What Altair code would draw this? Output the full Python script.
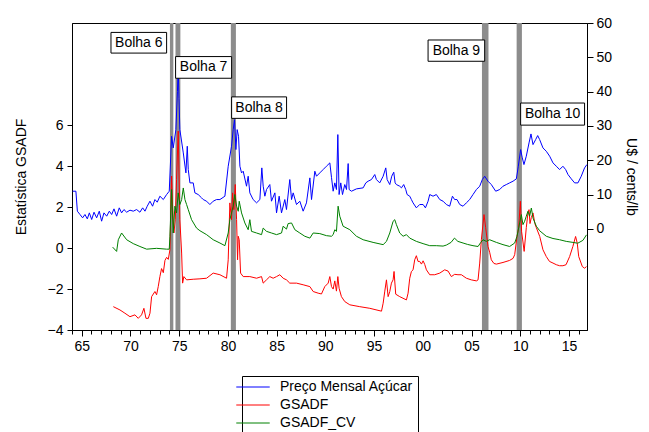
import altair as alt
import pandas as pd

# ---------------- data ----------------
price_year = [1964.07, 1964.40, 1964.55, 1964.82, 1965.09, 1965.33, 1965.57, 1965.78, 1966.02, 1966.26,
              1966.53, 1966.80, 1967.04, 1967.28, 1967.56, 1967.83, 1968.07, 1968.31, 1968.58, 1968.85,
              1969.09, 1969.33, 1969.61, 1969.95, 1970.29, 1970.63, 1970.97, 1971.25, 1971.49, 1971.72,
              1972.00, 1972.27, 1972.51, 1972.75, 1973.02, 1973.37, 1973.71, 1973.98, 1974.22, 1974.39,
              1974.66, 1974.82, 1974.90, 1974.98, 1975.07, 1975.42, 1975.69, 1975.83, 1975.93, 1976.10,
              1976.44, 1976.61, 1976.95, 1977.30, 1977.47, 1977.81, 1978.15, 1978.49, 1978.83, 1979.18,
              1979.69, 1980.03, 1980.37, 1980.54, 1980.68, 1980.82, 1980.95, 1981.09, 1981.23, 1981.40,
              1981.57, 1981.91, 1982.08, 1982.25, 1982.59, 1982.94, 1983.28, 1983.48, 1983.62, 1983.79,
              1983.96, 1984.30, 1984.47, 1984.82, 1984.99, 1985.26, 1985.50, 1985.84, 1986.01, 1986.35,
              1986.53, 1986.70, 1987.04, 1987.38, 1987.72, 1988.06, 1988.41, 1988.58, 1988.92, 1989.09,
              1989.43, 1989.77, 1990.11, 1990.46, 1990.63, 1990.80, 1990.97, 1991.14, 1991.28, 1991.41,
              1991.58, 1991.76, 1991.99, 1992.17, 1992.34, 1992.44, 1992.68, 1993.19, 1993.88, 1994.15,
              1994.39, 1994.73, 1995.07, 1995.24, 1995.58, 1995.93, 1996.20, 1996.34, 1996.61, 1996.81,
              1997.02, 1997.16, 1997.29, 1997.63, 1997.81, 1998.04, 1998.25, 1998.39, 1998.66, 1998.83,
              1999.00, 1999.34, 1999.68, 2000.03, 2000.27, 2000.54, 2000.71, 2001.05, 2001.39, 2001.74,
              2002.08, 2002.42, 2002.76, 2003.04, 2003.27, 2003.51, 2003.79, 2004.13, 2004.47, 2004.81,
              2005.15, 2005.50, 2005.84, 2006.11, 2006.35, 2006.69, 2007.03, 2007.48, 2007.89, 2008.23,
              2008.57, 2008.91, 2009.26, 2009.60, 2009.80, 2010.04, 2010.21, 2010.38, 2010.62, 2010.90,
              2011.10, 2011.31, 2011.58, 2011.79, 2011.99, 2012.33, 2012.67, 2013.02, 2013.36, 2013.70,
              2014.04, 2014.38, 2014.66, 2014.90, 2015.24, 2015.58, 2015.92, 2016.26, 2016.60, 2016.84]
price_value = [10.96, 10.96, 5.14, 4.17, 3.20, 4.17, 2.90, 4.65, 2.71, 4.84,
               3.20, 5.14, 2.22, 4.65, 3.68, 5.14, 4.17, 5.82, 3.68, 6.11,
               4.65, 5.62, 4.84, 5.43, 5.14, 5.62, 4.84, 6.11, 5.14, 6.59,
               8.05, 6.59, 8.53, 7.76, 9.51, 8.53, 9.99, 10.96, 26.98, 23.59,
               28.92, 40.0, 47.0, 38.0, 28.92, 22.13, 16.30, 24.07, 17.27, 13.39,
               13.39, 10.48, 9.99, 9.02, 8.53, 8.05, 7.08, 8.05, 8.53, 8.53,
               9.51, 18.24, 24.07, 28.92, 31.84, 23.10, 28.92, 26.98, 18.24, 16.30,
               16.79, 12.42, 15.33, 10.48, 8.53, 7.57, 8.53, 17.76, 12.42, 9.51,
               11.45, 12.90, 8.05, 10.48, 4.65, 9.51, 4.65, 8.53, 5.62, 14.36,
               8.53, 10.48, 7.08, 8.05, 5.14, 7.57, 14.85, 8.53, 16.79, 15.33,
               16.30, 17.27, 18.24, 19.22, 15.00, 10.96, 13.39, 11.45, 27.47, 9.99,
               13.39, 9.99, 12.90, 11.45, 19.02, 11.45, 10.96, 11.64, 11.94, 13.39,
               13.88, 14.36, 15.82, 14.36, 13.39, 15.33, 17.76, 14.36, 12.90, 15.33,
               16.50, 13.39, 12.90, 12.42, 11.94, 12.90, 11.45, 9.99, 9.51, 8.53,
               7.57, 6.11, 7.08, 7.08, 6.11, 8.05, 9.99, 9.51, 9.99, 8.53,
               8.05, 7.08, 6.59, 9.51, 8.53, 8.53, 7.08, 6.59, 7.57, 8.53,
               9.99, 11.45, 12.42, 14.36, 15.33, 13.88, 12.90, 10.96, 11.45, 12.42,
               12.90, 13.39, 13.88, 14.56, 18.24, 23.10, 20.67, 18.73, 21.16, 25.04,
               27.66, 24.55, 26.01, 27.18, 26.01, 23.59, 22.61, 21.16, 19.22, 18.24,
               17.27, 18.24, 17.27, 15.82, 14.56, 13.39, 13.39, 15.33, 17.76, 18.73]

gsadf_year = [1968.24, 1968.92, 1969.43, 1969.95, 1970.46, 1970.80, 1971.14, 1971.38, 1971.59, 1971.83,
              1972.00, 1972.17, 1972.51, 1972.68, 1972.85, 1973.02, 1973.19, 1973.37, 1973.54, 1973.71,
              1973.88, 1974.05, 1974.22, 1974.32, 1974.46, 1974.60, 1974.73, 1974.90, 1975.07, 1975.25,
              1975.35, 1975.48, 1975.76, 1976.44, 1977.13, 1977.81, 1978.49, 1979.18, 1979.86, 1980.03,
              1980.20, 1980.37, 1980.48, 1980.61, 1980.75, 1980.89, 1980.99, 1981.06, 1981.16, 1981.30,
              1981.57, 1982.25, 1982.94, 1983.45, 1983.62, 1983.96, 1984.30, 1984.64, 1984.99, 1985.33,
              1985.67, 1986.01, 1986.35, 1987.04, 1987.72, 1988.41, 1988.75, 1989.26, 1989.60, 1989.94,
              1990.29, 1990.46, 1990.63, 1990.80, 1990.97, 1991.14, 1991.28, 1991.41, 1991.65, 1991.99,
              1992.51, 1993.53, 1994.56, 1995.76, 1995.93, 1996.10, 1996.27, 1996.44, 1996.61, 1996.78,
              1996.95, 1997.05, 1997.22, 1997.63, 1998.32, 1998.49, 1998.66, 1998.83, 1999.00, 1999.17,
              1999.34, 1999.51, 1999.68, 1999.86, 2000.03, 2000.20, 2000.37, 2000.71, 2001.22, 2001.74,
              2002.25, 2002.59, 2002.93, 2003.27, 2003.61, 2003.96, 2004.47, 2004.97, 2005.50, 2005.67,
              2005.84, 2006.01, 2006.28, 2006.45, 2006.52, 2006.69, 2006.86, 2007.03, 2007.30, 2007.55,
              2008.23, 2008.91, 2009.26, 2009.43, 2009.67, 2009.84, 2010.01, 2010.14, 2010.28, 2010.40,
              2010.62, 2010.79, 2010.90, 2011.00, 2011.14, 2011.31, 2011.50, 2011.65, 2012.00, 2012.33,
              2012.67, 2013.00, 2013.36, 2013.70, 2014.04, 2014.38, 2014.70, 2015.07, 2015.40, 2015.68,
              2015.85, 2016.00, 2016.37, 2016.60, 2016.80]
gsadf_value = [-2.86, -3.02, -3.18, -3.35, -3.26, -3.43, -3.26, -2.94, -3.43, -3.43,
               -3.18, -2.37, -2.12, -2.28, -1.88, -1.39, -1.00, -1.20, -0.60, -0.45,
               -0.55, -0.08, 3.52, 2.05, 0.74, 1.39, 3.35, 5.72, 1.39, -0.24,
               -1.71, -1.39, -1.55, -1.52, -1.50, -1.47, -1.22, -1.30, -1.47, -0.57,
               2.21, 1.39, 2.70, 1.88, 3.11, 1.39, -0.57, 0.58, 0.41, -1.22,
               -1.39, -1.39, -1.47, -1.39, -1.71, -1.55, -1.39, -1.47, -1.39, -1.30,
               -1.47, -1.55, -1.71, -1.71, -1.79, -1.88, -2.12, -2.20, -2.24, -1.88,
               -1.71, -1.39, -1.88, -2.00, -1.60, -2.10, -1.39, -1.96, -2.37, -2.61,
               -2.77, -2.86, -2.94, -3.08, -2.69, -2.10, -1.55, -2.37, -2.12, -1.71,
               -1.55, -1.14, -2.25, -2.37, -2.53, -2.20, -1.47, -1.14, -1.06, -0.57,
               -0.37, -0.65, -0.65, -0.78, -0.62, -0.80, -1.06, -1.30, -1.30, -1.22,
               -1.06, -1.12, -1.39, -1.28, -1.30, -1.30, -1.47, -1.55, -1.60, -1.55,
               -0.73, 0.41, 1.64, 1.00, 0.74, 0.08, -0.20, -0.57, -0.75, -0.78,
               -0.70, -0.60, -0.50, -0.32, 0.58, 1.00, 2.29, 0.80, 0.30, -0.16,
               1.00, 1.72, 1.88, 1.20, 1.50, 1.72, 1.20, 1.00, 0.57, -0.08,
               -0.41, -0.65, -0.73, -0.81, -0.86, -0.86, -0.81, -0.41, 0.08, 0.57,
               0.24, -0.41, -0.90, -0.98, -0.90]

cv_year = [1968.17, 1968.58, 1968.75, 1969.09, 1969.61, 1970.29, 1970.97, 1971.66, 1972.68, 1973.71,
           1973.98, 1974.05, 1974.22, 1974.39, 1974.56, 1974.73, 1974.90, 1975.07, 1975.25, 1975.42,
           1975.59, 1975.76, 1975.93, 1976.27, 1976.78, 1977.13, 1977.81, 1978.49, 1979.18, 1979.69,
           1980.03, 1980.20, 1980.37, 1980.54, 1980.71, 1980.89, 1981.06, 1981.16, 1981.40, 1981.74,
           1982.08, 1982.25, 1982.42, 1982.94, 1983.45, 1983.62, 1983.96, 1984.47, 1984.99, 1985.50,
           1985.67, 1986.01, 1986.18, 1986.53, 1986.87, 1987.38, 1987.89, 1988.41, 1988.75, 1989.43,
           1990.11, 1990.63, 1990.80, 1990.97, 1991.14, 1991.31, 1991.48, 1991.82, 1992.51, 1993.19,
           1993.88, 1994.90, 1995.93, 1996.27, 1996.61, 1996.95, 1997.12, 1997.29, 1997.63, 1997.98,
           1998.32, 1998.66, 1999.34, 2000.03, 2000.71, 2001.39, 2002.08, 2002.42, 2002.90, 2003.25,
           2003.60, 2004.13, 2004.60, 2005.15, 2005.67, 2005.95, 2006.18, 2006.52, 2006.86, 2007.55,
           2008.23, 2008.91, 2009.43, 2009.67, 2009.94, 2010.11, 2010.28, 2010.45, 2010.62, 2010.79,
           2010.96, 2011.14, 2011.31, 2011.65, 2011.99, 2012.67, 2013.36, 2014.04, 2014.72, 2015.41,
           2015.90, 2016.43, 2016.80]
cv_value = [0.05, -0.16, 0.41, 0.74, 0.41, 0.22, 0.08, -0.05, -0.01, -0.05,
            -0.05, 0.58, 2.86, 0.74, 2.05, 1.72, 2.70, 2.13, 2.37, 2.94,
            2.37, 2.13, 1.88, 1.39, 0.98, 0.85, 0.66, 0.41, 0.25, 0.12,
            0.74, 1.39, 1.72, 2.05, 2.62, 2.05, 1.80, 2.29, 1.72, 1.23,
            0.90, 1.39, 0.82, 0.74, 0.66, 0.98, 0.82, 0.74, 0.66, 0.74,
            1.07, 0.93, 1.20, 1.23, 0.90, 0.74, 0.58, 0.49, 0.74, 0.71,
            0.61, 0.58, 0.66, 0.90, 0.82, 2.05, 1.56, 1.07, 0.90, 0.58,
            0.41, 0.28, 0.17, 0.33, 0.74, 1.31, 1.39, 1.15, 0.74, 0.58,
            0.66, 0.49, 0.33, 0.22, 0.12, 0.12, 0.10, 0.15, 0.28, 0.49,
            0.33, 0.25, 0.18, 0.12, 0.08, 0.28, 0.41, 0.33, 0.41, 0.28,
            0.17, 0.08, 0.25, 0.58, 1.23, 1.64, 1.15, 1.31, 1.56, 1.80,
            1.56, 1.96, 1.47, 1.07, 0.85, 0.58, 0.47, 0.41, 0.33, 0.28,
            0.24, 0.38, 0.65]

# bubble periods (shaded bands) and their labels
bubble_start = [1974.05, 1974.62, 1980.30, 2006.07, 2009.63]
bubble_end = [1974.40, 1975.12, 1980.82, 2006.74, 2010.17]
label_text = ["Bolha 6", "Bolha 7", "Bolha 8", "Bolha 9", "Bolha 10"]
label_x1 = [1968.00, 1974.63, 1980.38, 2000.54, 2010.04]
label_x2 = [1973.71, 1980.38, 1986.02, 2006.35, 2016.60]
label_y1 = [9.53, 8.30, 6.34, 9.13, 6.01]
label_y2 = [10.54, 9.36, 7.39, 10.17, 7.09]

series_names = ["Preço Mensal Açúcar", "GSADF", "GSADF_CV"]
series_colors = ["#0000ff", "#ff0000", "#008000"]

year_ticks = list(range(1964, 2017))
left_ticks = [-4, -2, 0, 2, 4, 6]
right_ticks = [0, 10, 20, 30, 40, 50, 60]

# ---------------- tables ----------------
price_df = pd.DataFrame({"year": price_year, "value": price_value, "series": series_names[0]})
stat_df = pd.concat([
    pd.DataFrame({"year": gsadf_year, "value": gsadf_value, "series": series_names[1]}),
    pd.DataFrame({"year": cv_year, "value": cv_value, "series": series_names[2]}),
])
bands_df = pd.DataFrame({"start": bubble_start, "end": bubble_end})
labels_df = pd.DataFrame({"text": label_text, "x1": label_x1, "x2": label_x2,
                          "y1": label_y1, "y2": label_y2})
labels_df["xm"] = (labels_df["x1"] + labels_df["x2"]) / 2
labels_df["ym"] = (labels_df["y1"] + labels_df["y2"]) / 2

FONT = "Liberation Sans"
x_dom = [1964.0, 2016.85]
left_dom = [-4, 11]
right_dom = [-29.5, 60]

x_scale = alt.Scale(domain=x_dom, nice=False, zero=False)
x_axis = alt.Axis(values=year_ticks, title=None, grid=False,
                  labelExpr="datum.value % 5 === 0 ? substring(toString(datum.value), 2, 4) : ''",
                  tickSize={"condition": {"test": "datum.value % 5 === 0", "value": 6}, "value": 4},
                  labelPadding=3, labelFontSize=14, labelFont=FONT, labelColor="black",
                  tickColor="black", domainColor="black", labelFlush=False, labelOverlap=False)

color_scale = alt.Scale(domain=series_names, range=series_colors)
legend = alt.Legend(title=None, orient="none", legendX=170, legendY=353, direction="vertical",
                    symbolType="M-4,0H4", symbolSize=70, symbolStrokeWidth=1,
                    labelFont=FONT, labelFontSize=14, labelColor="black", labelLimit=400,
                    labelOffset=20, strokeColor="black", fillColor="white", padding=4,
                    rowPadding=4, cornerRadius=0)

bands = alt.Chart(bands_df).mark_rect(color="#8c8c8c").encode(
    x=alt.X("start:Q", scale=x_scale, axis=x_axis),
    x2="end:Q",
)

stat_lines = alt.Chart(stat_df).mark_line(strokeWidth=1).encode(
    x=alt.X("year:Q", scale=x_scale, axis=x_axis),
    y=alt.Y("value:Q", scale=alt.Scale(domain=left_dom, nice=False, zero=False),
            axis=alt.Axis(values=left_ticks, title="Estatística GSADF", grid=False,
                          titleFont=FONT, titleFontSize=14, titleFontWeight="normal",
                          titleColor="black", titlePadding=19,
                          labelFont=FONT, labelFontSize=14, labelColor="black",
                          tickColor="black", tickSize=5, labelPadding=4, domainColor="black")),
    color=alt.Color("series:N", scale=color_scale, legend=legend),
    detail="series:N",
)

left_group = alt.layer(bands, stat_lines)

price_line = alt.Chart(price_df).mark_line(strokeWidth=1).encode(
    x=alt.X("year:Q", scale=x_scale, axis=x_axis),
    y=alt.Y("value:Q", scale=alt.Scale(domain=right_dom, nice=False, zero=False),
            axis=alt.Axis(orient="right", values=right_ticks, title="U$ / cents/lb", grid=False,
                          titleFont=FONT, titleFontSize=14, titleFontWeight="normal",
                          titleColor="black", titlePadding=12,
                          labelFont=FONT, labelFontSize=14, labelColor="black",
                          tickColor="black", tickSize=6, labelPadding=3, domainColor="black")),
    color=alt.Color("series:N", scale=color_scale, legend=legend),
)

ann_scale = alt.Scale(domain=left_dom, nice=False, zero=False)
boxes = alt.Chart(labels_df).mark_rect(fill="white", stroke="black", strokeWidth=1).encode(
    x=alt.X("x1:Q", scale=x_scale, axis=x_axis),
    x2="x2:Q",
    y=alt.Y("y1:Q", scale=ann_scale, axis=None),
    y2="y2:Q",
)
texts = alt.Chart(labels_df).mark_text(font=FONT, fontSize=14, color="black",
                                       align="center", baseline="middle").encode(
    x=alt.X("xm:Q", scale=x_scale, axis=x_axis),
    y=alt.Y("ym:Q", scale=ann_scale, axis=None),
    text="text:N",
)
ann_group = alt.layer(boxes, texts)

chart = alt.layer(left_group, price_line, ann_group).resolve_scale(
    y="independent"
).properties(
    width=515, height=307,
    padding={"left": 72, "top": 23, "right": 62, "bottom": 102},
    autosize=alt.AutoSizeParams(type="none"),
    background="white",
).configure_view(stroke="black", strokeWidth=1)

chart.save("out.html", embed_options={"renderer": "svg", "actions": False})
